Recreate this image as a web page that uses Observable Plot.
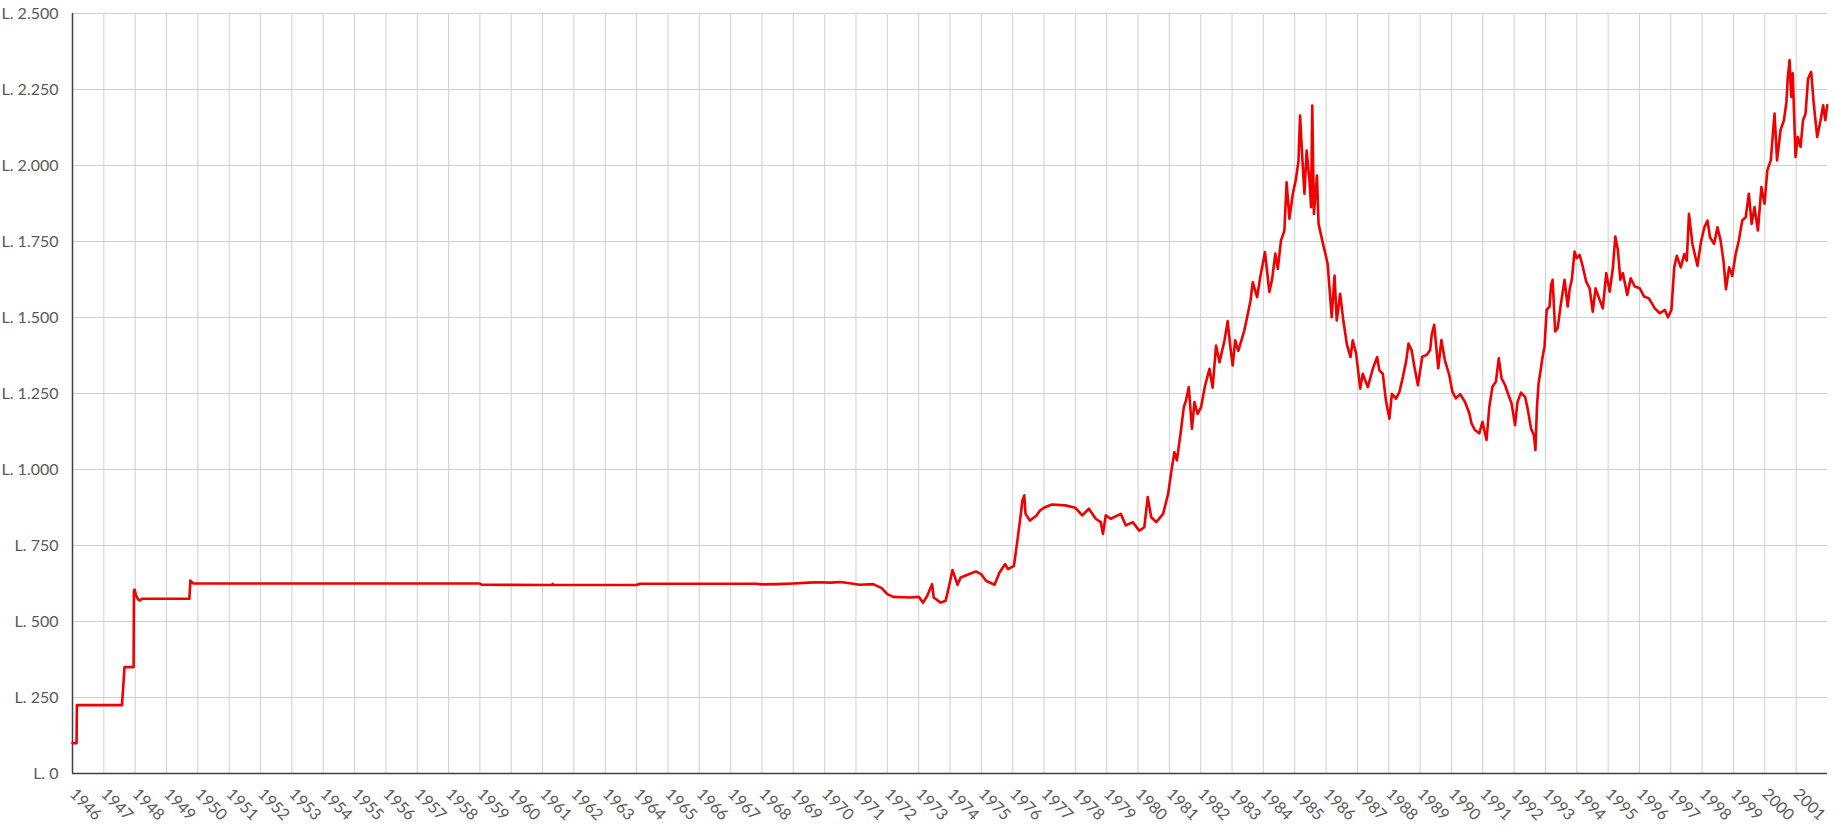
<!DOCTYPE html>
<html>
<head>
<meta charset="utf-8">
<script src="https://cdn.jsdelivr.net/npm/d3@7"></script>
<script src="https://cdn.jsdelivr.net/npm/@observablehq/plot@0.6"></script>
<style>
  html, body { margin: 0; padding: 0; background: #fff; }
  #chart { width: 1836px; height: 825px; }
  svg { font-family: Lato, "Open Sans", sans-serif; }
</style>
</head>
<body>
<div id="chart"></div>
<script>
// Tick labels
const yearTicks = d3.range(1946, 2002);          // 1946 … 2001
const valueTicks = d3.range(0, 2501, 250);       // L. 0 … L. 2.500

// Series: time (decimal year) and lire per US dollar
const dates = [
  1946.00,1946.13,1946.14,1947.58,1947.66,1947.95,1947.96,1947.98,1948.03,1948.10,1948.15,1948.22,
  1949.73,1949.76,1949.80,1949.86,1955.00,1959.00,1959.05,1961.30,1961.32,1961.35,1964.00,1964.10,
  1967.80,1968.00,1968.50,1969.00,1969.50,1969.80,1970.20,1970.50,1970.80,
  1971.12,1971.55,1971.82,1972.00,1972.19,1972.73,1973.01,1973.14,1973.27,1973.43,1973.48,1973.70,
  1973.86,1973.94,1974.08,1974.24,1974.34,1974.56,1974.83,1974.99,1975.15,1975.42,1975.58,1975.76,
  1975.85,1976.04,1976.15,1976.26,1976.31,1976.37,1976.41,1976.55,1976.76,1976.87,1977.03,1977.25,
  1977.68,1978.00,1978.22,1978.43,1978.65,1978.81,1978.88,1978.97,1979.13,1979.45,1979.61,1979.83,
  1980.04,1980.20,1980.31,1980.42,1980.58,1980.80,1980.96,1981.07,1981.16,1981.24,1981.37,1981.46,
  1981.53,1981.62,1981.72,1981.80,1981.90,1982.01,1982.14,1982.28,1982.38,1982.49,1982.60,1982.76,
  1982.86,1982.94,1983.02,1983.10,1983.20,1983.39,1983.48,1983.59,1983.66,1983.80,1983.90,1984.05,
  1984.19,1984.28,1984.38,1984.46,1984.56,1984.67,1984.74,1984.83,1984.94,1985.04,1985.12,1985.17,
  1985.24,1985.31,1985.38,1985.47,1985.52,1985.56,1985.61,1985.71,1985.76,1985.89,1986.05,1986.18,
  1986.27,1986.34,1986.45,1986.55,1986.67,1986.78,1986.85,1986.96,1987.09,1987.17,1987.33,1987.49,
  1987.63,1987.70,1987.81,1987.91,1988.02,1988.10,1988.23,1988.34,1988.45,1988.56,1988.63,1988.73,
  1988.82,1988.93,1989.07,1989.21,1989.32,1989.37,1989.45,1989.58,1989.68,1989.79,1989.93,1990.03,
  1990.14,1990.28,1990.43,1990.57,1990.64,1990.75,1990.89,1990.99,1991.12,1991.21,1991.31,1991.42,
  1991.51,1991.60,1991.71,1991.82,1991.92,1992.03,1992.11,1992.22,1992.35,1992.43,1992.54,1992.63,
  1992.68,1992.73,1992.78,1992.84,1992.91,1992.97,1993.04,1993.13,1993.18,1993.23,1993.31,1993.39,
  1993.48,1993.61,1993.71,1993.77,1993.84,1993.93,1994.00,1994.09,1994.19,1994.30,1994.41,1994.51,
  1994.60,1994.73,1994.83,1994.94,1995.05,1995.15,1995.23,1995.31,1995.39,1995.47,1995.61,1995.72,
  1995.85,1996.01,1996.15,1996.30,1996.49,1996.65,1996.81,1996.91,1997.02,1997.11,1997.19,1997.32,
  1997.43,1997.51,1997.58,1997.69,1997.85,1997.96,1998.07,1998.17,1998.25,1998.38,1998.49,1998.59,
  1998.68,1998.76,1998.86,1998.96,1999.07,1999.17,1999.28,1999.39,1999.49,1999.58,1999.67,1999.78,
  1999.89,1999.99,2000.08,2000.19,2000.31,2000.39,2000.50,2000.61,2000.69,2000.73,2000.79,2000.84,
  2000.89,2000.98,2001.05,2001.14,2001.22,2001.30,2001.38,2001.48,2001.56,2001.67,2001.78,2001.86,
  2001.93,2001.99
];
const lire = [
  100,100,225,225,350,350,600,605,585,572,569,575,
  575,635,630,625,625,625,621,620,624,620,620,624,
  624,622,623,625,628,629,628,630,626,
  621,623,610,590,581,579,581,562,584,623,579,562,
  568,603,669,621,645,654,665,656,634,621,661,689,
  672,683,766,854,898,915,854,832,849,865,876,885,
  882,874,849,871,838,827,788,849,838,854,816,827,
  799,810,909,843,827,854,920,999,1057,1030,1129,1205,
  1227,1271,1134,1222,1183,1205,1277,1331,1269,1408,1353,1425,
  1488,1408,1342,1425,1390,1457,1501,1556,1616,1567,1633,1715,
  1584,1627,1710,1660,1753,1786,1945,1825,1907,1956,2016,2164,
  2027,1907,2049,1951,1863,2197,1841,1967,1808,1748,1677,1501,
  1638,1490,1578,1490,1408,1370,1425,1381,1266,1315,1271,1331,
  1370,1326,1315,1227,1167,1249,1233,1255,1304,1359,1414,1392,
  1337,1277,1371,1377,1393,1443,1476,1333,1426,1360,1311,1256,
  1234,1248,1223,1185,1152,1130,1119,1157,1097,1207,1272,1289,
  1366,1300,1278,1245,1217,1146,1223,1253,1239,1201,1135,1113,
  1064,1207,1283,1322,1371,1404,1525,1536,1607,1624,1454,1465,
  1536,1624,1536,1591,1624,1717,1695,1706,1668,1618,1596,1519,
  1596,1558,1530,1646,1585,1662,1766,1723,1624,1646,1574,1629,
  1602,1596,1569,1563,1530,1514,1525,1501,1525,1665,1703,1665,
  1709,1687,1841,1742,1670,1747,1797,1819,1764,1742,1797,1753,
  1687,1593,1665,1637,1709,1753,1819,1830,1907,1808,1863,1786,
  1929,1874,1984,2017,2171,2017,2116,2149,2209,2286,2347,2226,
  2303,2028,2094,2061,2149,2171,2286,2308,2204,2094,2149,2198,
  2149,2198
];

const itLocale = d3.formatLocale({decimal: ",", thousands: ".", grouping: [3], currency: ["", ""]});
const fmtLire = v => "L. " + itLocale.format(",")(v);

const chart = Plot.plot({
  width: 1836,
  height: 825,
  marginLeft: 72,
  marginRight: 9,
  marginTop: 13,
  marginBottom: 52,
  style: {fontFamily: "Lato, 'Open Sans', sans-serif", fontSize: "16px", color: "#595959", background: "#fff"},
  x: {domain: [1946, 2002], ticks: yearTicks, tickFormat: d => String(d), label: null},
  y: {domain: [0, 2500], ticks: valueTicks, tickFormat: fmtLire, label: null},
  marks: [
    Plot.gridX(yearTicks, {stroke: "#d0d0d0", strokeOpacity: 1, strokeWidth: 1}),
    Plot.gridY(valueTicks, {stroke: "#d0d0d0", strokeOpacity: 1, strokeWidth: 1}),
    Plot.axisY(valueTicks, {tickSize: 0, tickPadding: 14, tickFormat: fmtLire, fill: "#595959", fontSize: 16}),
    Plot.axisX(yearTicks, {tickSize: 0, tickPadding: 18, tickRotate: 45, tickFormat: d => String(d), fill: "#595959", fontSize: 16}),
    Plot.ruleX([1946], {stroke: "#404040", strokeWidth: 1.5}),
    Plot.ruleY([0], {stroke: "#404040", strokeWidth: 1.5}),
    Plot.line(lire, {x: dates, y: lire, stroke: "#f00000", strokeWidth: 2.6, strokeLinejoin: "round"})
  ]
});
document.getElementById("chart").appendChild(chart);
</script>
</body>
</html>
